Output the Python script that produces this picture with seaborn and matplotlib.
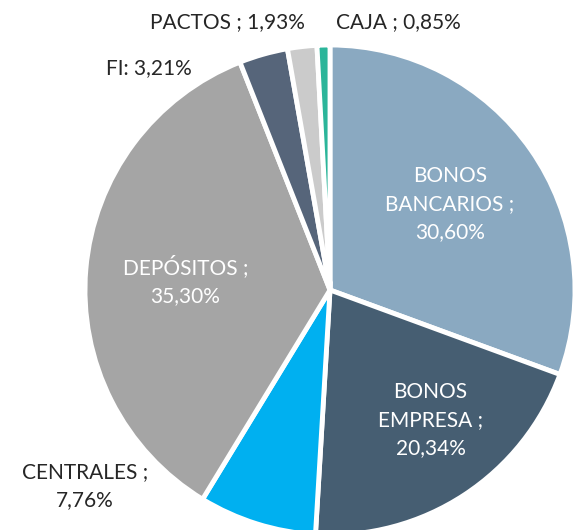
import matplotlib
matplotlib.use("Agg")
import matplotlib.pyplot as plt
import seaborn as sns

# datos de la cartera (%)
categorias = ["BONOS\nBANCARIOS", "BONOS\nEMPRESA", "CENTRALES", "DEPÓSITOS", "FI", "PACTOS", "CAJA"]
valores = [30.60, 20.34, 7.76, 35.30, 3.21, 1.93, 0.85]
colores = ["#8aa9c1", "#465e72", "#00b0f0", "#a5a5a5", "#56657a", "#cbcbcb", "#2bb59a"]

sns.set_theme(style="white")
plt.rcParams["font.family"] = ["Lato", "DejaVu Sans"]

fig = plt.figure(figsize=(5.73, 5.30), dpi=100)
ax = fig.add_axes([85 / 573, -5 / 530, 490 / 573, 490 / 530])

wedges, _ = ax.pie(valores, colors=colores, startangle=90, counterclock=False,
                   radius=1, wedgeprops=dict(edgecolor="white", linewidth=3.5))
ax.set_xlim(-1, 1)
ax.set_ylim(-1, 1)
ax.set_aspect("equal")
ax.axis("off")


def fmt(v):
    return f"{v:.2f}".replace(".", ",") + "%"


# etiquetas: texto, posición (coordenadas del pastel), color
etiquetas = [
    (f"{categorias[0]} ;\n{fmt(valores[0])}", (0.49, 0.35), "white"),
    (f"{categorias[1]} ;\n{fmt(valores[1])}", (0.41, -0.53), "white"),
    (f"{categorias[2]} ;\n{fmt(valores[2])}", (-1.00, -0.80), "#262626"),
    (f"{categorias[3]} ;\n{fmt(valores[3])}", (-0.59, 0.04), "white"),
    (f"{categorias[4]}: {fmt(valores[4])}", (-0.74, 0.905), "#262626"),
    (f"{categorias[5]} ; {fmt(valores[5])}", (-0.42, 1.094), "#262626"),
    (f"{categorias[6]} ; {fmt(valores[6])}", (0.28, 1.094), "#262626"),
]
for texto, (x, y), c in etiquetas:
    ax.text(x, y, texto, ha="center", va="center", color=c, fontsize=15,
            fontweight="normal", linespacing=1.5, clip_on=False)

fig.savefig("out.png", dpi=100)
